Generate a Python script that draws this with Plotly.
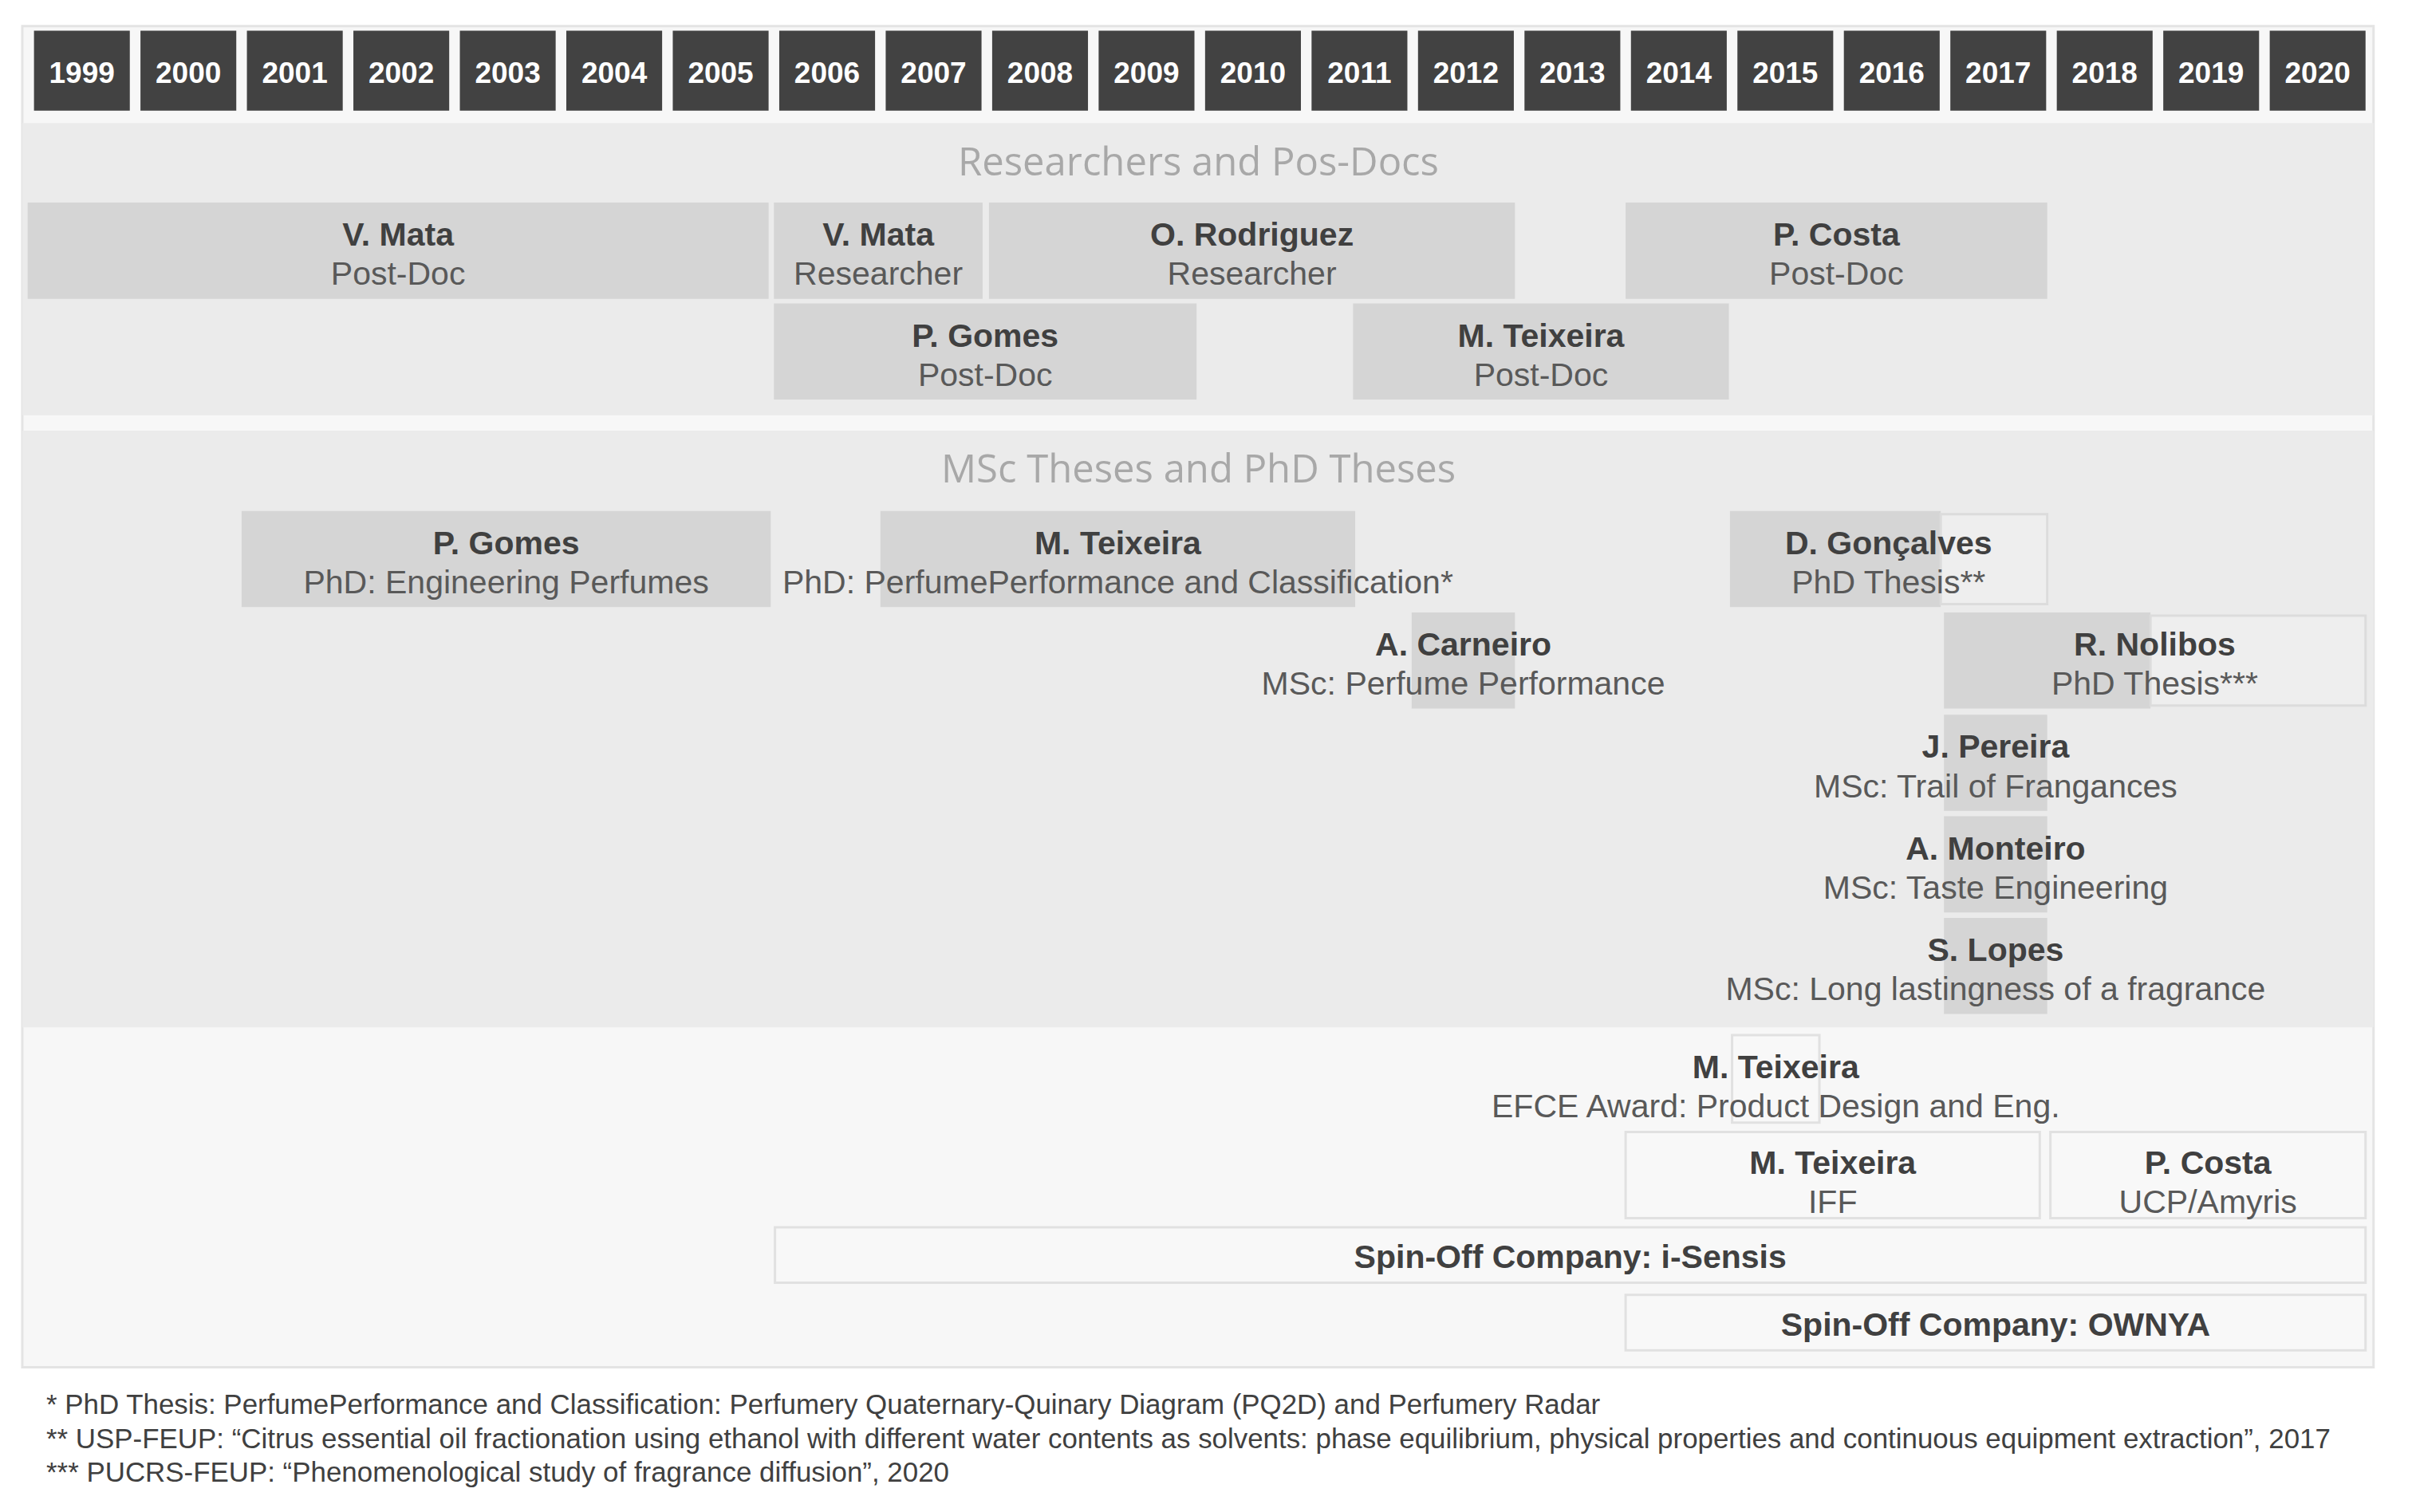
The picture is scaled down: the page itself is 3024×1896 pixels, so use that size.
import plotly.graph_objects as go

# ---- data ----
years = list(range(1999, 2021))

res_names = ["V. Mata", "V. Mata", "O. Rodriguez", "P. Costa", "P. Gomes", "M. Teixeira"]
res_roles = ["Post-Doc", "Researcher", "Researcher", "Post-Doc", "Post-Doc", "Post-Doc"]
res_start = [1998.94, 2005.95, 2007.97, 2013.95, 2005.95, 2011.39]
res_end = [2005.9, 2007.91, 2012.91, 2017.91, 2009.92, 2014.92]
res_row = [0, 0, 0, 0, 1, 1]

thesis_names = ["P. Gomes", "M. Teixeira", "D. Gonçalves", "A. Carneiro",
                "R. Nolibos", "J. Pereira", "A. Monteiro", "S. Lopes"]
thesis_roles = ["PhD: Engineering Perfumes", "PhD: PerfumePerformance and Classification*",
                "PhD Thesis**", "MSc: Perfume Performance", "PhD Thesis***",
                "MSc: Trail of Frangances", "MSc: Taste Engineering",
                "MSc: Long lastingness of a fragrance"]
thesis_start = [2000.95, 2006.95, 2014.93, 2011.94, 2016.94, 2016.94, 2016.94, 2016.94]
thesis_done = [2005.92, 2011.41, 2016.91, 2012.91, 2018.88, 2017.91, 2017.91, 2017.91]
thesis_end = [2005.92, 2011.41, 2017.91, 2012.91, 2020.9, 2017.91, 2017.91, 2017.91]
thesis_row = [0, 0, 0, 1, 1, 2, 3, 4]

other_names = ["M. Teixeira", "M. Teixeira", "P. Costa",
               "Spin-Off Company: i-Sensis", "Spin-Off Company: OWNYA"]
other_roles = ["EFCE Award: Product Design and Eng.", "IFF", "UCP/Amyris", "", ""]
other_start = [2014.95, 2013.95, 2017.94, 2005.96, 2013.95]
other_end = [2015.77, 2017.84, 2020.9, 2020.9, 2020.9]
other_row = [0, 1, 1, 2, 3]

section_titles = ["Researchers and Pos-Docs", "MSc Theses and PhD Theses"]

footnotes = [
    "* PhD Thesis: PerfumePerformance and Classification: Perfumery Quaternary-Quinary Diagram (PQ2D) and Perfumery Radar",
    "** USP-FEUP: “Citrus essential oil fractionation using ethanol with different water contents as solvents: phase equilibrium, physical properties and continuous equipment extraction”, 2017",
    "*** PUCRS-FEUP: “Phenomenological study of fragrance diffusion”, 2020",
]

# ---- layout (reference units, scaled to the 3024 px canvas) ----
W, H = 3024, 1896
REF_W = 1568.0
S = W / REF_W
REF_H = H / S
X0_PX = 22.1
YEAR_PX = 69.21


def to_year(px):
    return 1999 + (px - X0_PX) / YEAR_PX


RES_Y = [163, 228.5]
THESIS_Y = [363.5, 429.5, 496, 562, 628]
OTHER_Y = [701.5, 764, 816, 860]
OTHER_H = [57, 56, 36, 36]
OTHER_DY = 2.5
ROW_H = 62.5
HEAD_Y, HEAD_H = 46, 52
NAME_DY, ROLE_DY = -8.5, 17

FONT = "Liberation Sans, Arial, sans-serif"
DARK = "#404040"
ROLE = "#595959"
BAR = "#d5d5d5"
PANEL = "#ebebeb"
LIGHT = "#f7f7f7"

fig = go.Figure()

# year header cells
fig.add_trace(go.Bar(
    orientation="h", base=years, x=[0.9] * len(years), y=[HEAD_Y] * len(years),
    width=HEAD_H, marker=dict(color="#424242", line=dict(width=0)), hoverinfo="skip"))
fig.add_trace(go.Scatter(
    x=[y + 0.45 for y in years], y=[HEAD_Y + 3] * len(years), text=[str(y) for y in years],
    mode="text", textfont=dict(family=FONT, size=37, color="white", weight="bold"),
    hoverinfo="skip"))

# researchers
fig.add_trace(go.Bar(
    orientation="h", base=res_start, x=[e - s for s, e in zip(res_start, res_end)],
    y=[RES_Y[r] for r in res_row], width=ROW_H,
    marker=dict(color=BAR, line=dict(width=0)), hoverinfo="skip"))

# theses: finished part and remaining part
fig.add_trace(go.Bar(
    orientation="h", base=thesis_start, x=[d - s for s, d in zip(thesis_start, thesis_done)],
    y=[THESIS_Y[r] for r in thesis_row], width=ROW_H,
    marker=dict(color=BAR, line=dict(width=0)), hoverinfo="skip"))
open_idx = [i for i in range(len(thesis_names)) if thesis_end[i] > thesis_done[i]]
fig.add_trace(go.Bar(
    orientation="h", base=[thesis_done[i] for i in open_idx],
    x=[thesis_end[i] - thesis_done[i] for i in open_idx],
    y=[THESIS_Y[thesis_row[i]] for i in open_idx], width=ROW_H - 4,
    marker=dict(color="#eeeeee", line=dict(width=3, color="#dcdcdc")), hoverinfo="skip"))

# awards, positions and spin-offs
fig.add_trace(go.Bar(
    orientation="h", base=other_start, x=[e - s for s, e in zip(other_start, other_end)],
    y=[OTHER_Y[r] for r in other_row], width=[OTHER_H[r] for r in other_row],
    marker=dict(color="#f8f8f8", line=dict(width=3, color="#e1e1e1")), hoverinfo="skip"))

# labels: bold name line and role line
nx, ny, nt, rx, ry, rt = [], [], [], [], [], []
for names, roles, st, en, rows, ys, dy in [
        (res_names, res_roles, res_start, res_end, res_row, RES_Y, 0),
        (thesis_names, thesis_roles, thesis_start, thesis_end, thesis_row, THESIS_Y, 0),
        (other_names, other_roles, other_start, other_end, other_row, OTHER_Y, OTHER_DY)]:
    for n, r, s, e, row in zip(names, roles, st, en, rows):
        xc = (s + e) / 2
        if r:
            nx.append(xc); ny.append(ys[row] + dy + NAME_DY); nt.append(n)
            rx.append(xc); ry.append(ys[row] + dy + ROLE_DY); rt.append(r)
        else:
            nx.append(xc); ny.append(ys[row] + 3); nt.append(n)
fig.add_trace(go.Scatter(
    x=nx, y=ny, text=nt, mode="text",
    textfont=dict(family=FONT, size=41, color=DARK, weight="bold"), hoverinfo="skip"))
fig.add_trace(go.Scatter(
    x=rx, y=ry, text=rt, mode="text",
    textfont=dict(family=FONT, size=41, color=ROLE), hoverinfo="skip"))

# background panels
xl, xr = to_year(14.5), to_year(1543)
shapes = [
    dict(type="rect", x0=xl, x1=xr, y0=17, y1=889, fillcolor=LIGHT,
         line=dict(color="#e4e4e4", width=3)),
    dict(type="rect", x0=xl, x1=xr, y0=80, y1=270, fillcolor=PANEL, line=dict(width=0)),
    dict(type="rect", x0=xl, x1=xr, y0=280, y1=668, fillcolor=PANEL, line=dict(width=0)),
]
for sh in shapes:
    sh.update(xref="x", yref="y", layer="below")

annotations = []
for t, y in zip(section_titles, [104, 304]):
    annotations.append(dict(
        x=to_year(779), y=y, xref="x", yref="y", text=t, showarrow=False,
        font=dict(family="Open Sans, sans-serif", size=49, color="#a8a8a8")))
for t, y in zip(footnotes, [913, 935, 957]):
    annotations.append(dict(
        x=to_year(29), y=y, xref="x", yref="y", text=t, showarrow=False,
        xanchor="left", font=dict(family=FONT, size=34.9, color=DARK)))

fig.update_layout(
    width=W, height=H, autosize=False,
    margin=dict(l=0, r=0, t=0, b=0),
    paper_bgcolor="white", plot_bgcolor="white",
    barmode="overlay", showlegend=False,
    shapes=shapes, annotations=annotations,
    xaxis=dict(range=[to_year(0), to_year(REF_W)], visible=False, fixedrange=True),
    yaxis=dict(range=[REF_H, 0], visible=False, fixedrange=True),
)

fig.write_html("out.html", config={"displayModeBar": False},
               post_script="document.body.style.margin='0px';")
